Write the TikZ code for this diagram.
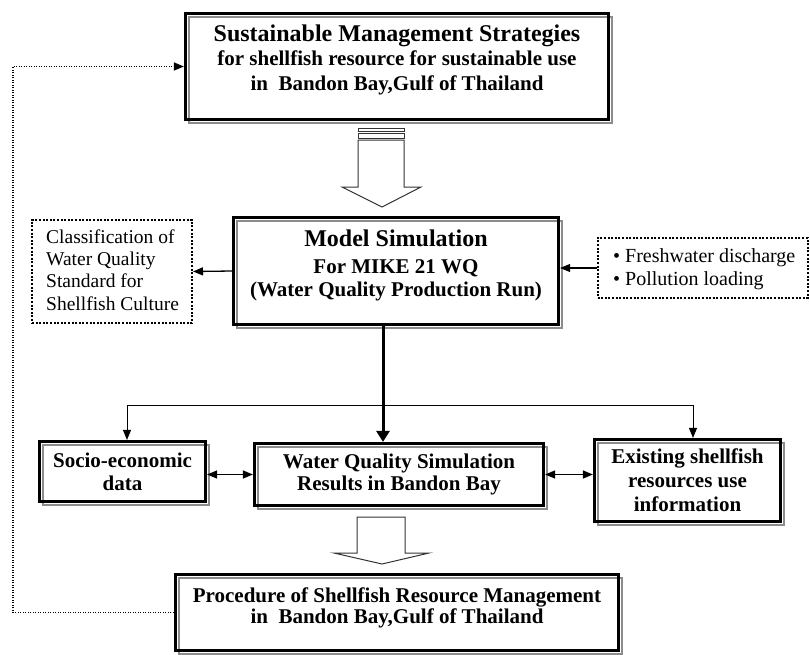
\documentclass[tikz,border=0pt]{standalone}
\usepackage{fontspec}
\setmainfont{Liberation Serif}
\usetikzlibrary{arrows.meta}

\definecolor{shade}{gray}{0.55}

\tikzset{
  mbox/.style={draw, line width=3.2pt, inner sep=0pt, align=center,
    font=\bfseries\fontsize{21}{23}\selectfont,
    preaction={draw=shade, line width=2.6pt, transform canvas={xshift=3.5pt,yshift=-3.5pt}}},
  dbox/.style={draw, line width=2pt, dash pattern=on 2pt off 1.6pt, inner sep=0pt},
  btxt/.style={inner sep=0pt, align=center},
  conn/.style={line width=1.3pt, -{Triangle[length=10pt,width=8pt]}},
  dconn/.style={line width=1.3pt, {Triangle[length=10pt,width=8pt]}-{Triangle[length=10pt,width=8pt]}},
  heavy/.style={line width=3pt, -{Triangle[length=11pt,width=13pt]}},
  fb/.style={line width=1.3pt, dash pattern=on 1.3pt off 1.2pt, -{Triangle[length=10pt,width=8pt]}},
  hollow/.style={draw=black!80, line width=1pt, fill=white}
}

\begin{document}
\begin{tikzpicture}[x=1pt, y=-1pt]

\useasboundingbox (0,0) rectangle (810,654);

\node (top) at (397,66.5) [mbox, minimum width=423pt, minimum height=106pt] {};
\node (topT) at (397,60) [btxt, font=\bfseries\fontsize{21}{25}\selectfont]
  {{\fontsize{24}{24}\selectfont Sustainable Management Strategies}\\[-1.7pt]
   for shellfish resource for sustainable use\\
   in\ \ Bandon Bay,Gulf of Thailand};

\node (model) at (396,271) [mbox, minimum width=325pt, minimum height=107pt] {};
\node (modelT) at (396,265.5) [btxt, font=\bfseries\fontsize{21}{22.7}\selectfont]
  {{\fontsize{24}{24}\selectfont Model Simulation}\\[3.9pt]
   For MIKE 21 WQ\\
   (Water Quality Production Run)};

\node (class) at (112,271.5) [dbox, minimum width=160pt, minimum height=103pt] {};
\node (classT) at (46,270) [anchor=west, inner sep=0pt, align=left,
  font=\fontsize{19.5}{22.3}\selectfont]
  {Classification of\\ Water Quality\\ Standard for\\ Shellfish Culture};

\node (input) at (702.5,268) [dbox, minimum width=210pt, minimum height=60pt] {};
\node (inputT) at (613,269) [anchor=west, inner sep=0pt, align=left,
  font=\fontsize{20}{23}\selectfont]
  {\textbullet\ Freshwater discharge\\ \textbullet\ Pollution loading};

\node (socio) at (122.5,471.5) [mbox, minimum width=166pt, minimum height=60pt]
  {Socio-economic\\ data};
\node (wq) at (399,474.5) [mbox, minimum width=289pt, minimum height=62pt,
  font=\bfseries\fontsize{21}{22}\selectfont]
  {Water Quality Simulation\\ Results in Bandon Bay};
\node (exist) at (687.5,480.5) [mbox, minimum width=186pt, minimum height=82pt,
  font=\bfseries\fontsize{21}{24}\selectfont]
  {Existing shellfish\\ resources use\\ information};

\node (proc) at (397,612.5) [mbox, minimum width=443pt, minimum height=76pt] {};
\node (procT) at (397,607.7) [btxt, font=\bfseries\fontsize{21}{21.6}\selectfont]
  {Procedure of Shellfish Resource Management\\
   in\ \ Bandon Bay,Gulf of Thailand};

%%%%%%%%%%%%%%%%%%%%%%%%%%%%%%%%%%%%%%%%%%%%%%%%%%%%%%%%%%%%%%%%%%%%%%%%%%%%%%%%%%%
\path [hollow] (358,128) rectangle (404,131);
\path [hollow] (358,133) rectangle (404,138);
\path [hollow] (358,140) -- (358,187) -- (342,187) -- (382,207) -- (421,187)
  -- (404,187) -- (404,140) -- cycle;

\path [hollow] (357,517) -- (357,553) -- (334,553) -- (382,564) -- (429,553)
  -- (405,553) -- (405,517) -- cycle;
%%%%%%%%%%%%%%%%%%%%%%%%%%%%%%%%%%%%%%%%%%%%%%%%%%%%%%%%%%%%%%%%%%%%%%%%%%%%%%%%%%%

\coordinate (split) at (383,405);
\coordinate (bl) at (127,405);
\coordinate (br) at (693,405);
\coordinate (fbc) at (13,612);

\draw [conn] (model.west) to (class.east);
\draw [conn] (input.west) to (input.west -| model.east);

\draw [line width=1pt] (bl) to (br);
\draw [conn, line width=1pt] (bl) to (bl |- socio.north);
\draw [conn, line width=1pt] (br) to (br |- exist.north);
\draw [heavy] (split |- model.south) to (split |- wq.north);

\draw [dconn] (wq.west -| socio.east) to (wq.west);
\draw [dconn] (wq.east) to (wq.east -| exist.west);

\draw [fb] (proc.west) -| (fbc |- top.west) to (top.west);

\end{tikzpicture}
\end{document}
